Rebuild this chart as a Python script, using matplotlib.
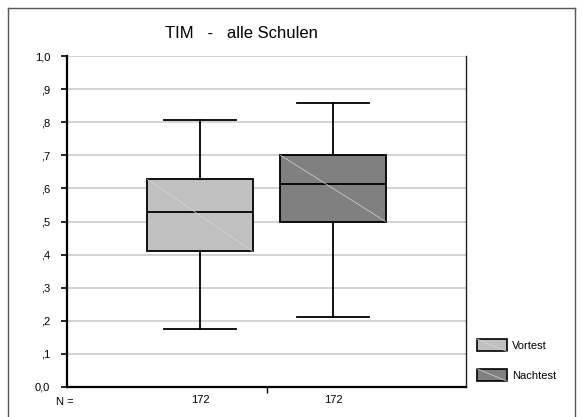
import matplotlib
matplotlib.use("Agg")
import matplotlib.pyplot as plt
from matplotlib.patches import Patch, Rectangle
from matplotlib.legend_handler import HandlerPatch
from matplotlib.lines import Line2D

plt.rcParams["font.family"] = ["Liberation Sans", "DejaVu Sans"]

# Box plot statistics
groups = ["Vortest", "Nachtest"]
n_counts = [172, 172]
whisker_low = [0.175, 0.210]
q1 = [0.410, 0.500]
median = [0.530, 0.614]
q3 = [0.627, 0.700]
whisker_high = [0.807, 0.857]
fills = ["#c0c0c0", "#808080"]

ytick_vals = [0.0, 0.1, 0.2, 0.3, 0.4, 0.5, 0.6, 0.7, 0.8, 0.9, 1.0]
ytick_labels = ["0,0", ",1", ",2", ",3", ",4", ",5", ",6", ",7", ",8", ",9", "1,0"]

positions = [1, 2]
box_w = 0.79
cap_w = 0.54

fig = plt.figure(figsize=(5.82, 4.17), dpi=100)
ax = fig.add_axes([67 / 582, 1 - 387 / 417, (466 - 67) / 582, (387 - 56) / 417])

# outer frame of the output window
fig.add_artist(Line2D([8 / 582, 8 / 582], [0, 1 - 8 / 417], transform=fig.transFigure,
                      color="#555555", lw=1))
fig.add_artist(Line2D([8 / 582, 575 / 582], [1 - 8 / 417, 1 - 8 / 417], transform=fig.transFigure,
                      color="#555555", lw=1))
fig.add_artist(Line2D([575 / 582, 575 / 582], [0, 1 - 8 / 417], transform=fig.transFigure,
                      color="#555555", lw=1))

# grid
for v in ytick_vals[1:]:
    ax.axhline(v, color="#c8c8c8", lw=1.1, zorder=0)

stats = []
for i, g in enumerate(groups):
    stats.append(dict(label=g, whislo=whisker_low[i], q1=q1[i], med=median[i],
                      q3=q3[i], whishi=whisker_high[i], fliers=[]))

bp = ax.bxp(stats, positions=positions, widths=box_w, capwidths=cap_w,
            patch_artist=True, showfliers=False,
            boxprops=dict(edgecolor="black", linewidth=1.3),
            medianprops=dict(color="black", linewidth=1.3),
            whiskerprops=dict(color="black", linewidth=1.3),
            capprops=dict(color="black", linewidth=1.3))
for patch, c in zip(bp["boxes"], fills):
    patch.set_facecolor(c)
    patch.set_zorder(2)

# faint diagonal across each box
for i, p in enumerate(positions):
    ax.plot([p - box_w / 2, p + box_w / 2], [q3[i], q1[i]], color="#d8d8d8",
            lw=0.5, zorder=2.5)

ax.set_xlim(0, 3)
ax.set_ylim(0, 1.0)
ax.set_yticks(ytick_vals)
ax.set_yticklabels(ytick_labels)
ax.tick_params(axis="y", direction="out", length=4, width=1.2, pad=8, labelsize=8)

ax.set_xticks([1.5])
ax.set_xticklabels([""])
ax.tick_params(axis="x", which="major", direction="out", length=4, width=1)
ax.set_xticks(positions, minor=True)
ax.set_xticklabels([str(n) for n in n_counts], minor=True)
ax.tick_params(axis="x", which="minor", length=0, pad=6, labelsize=8)
ax.text(-0.02, -0.03, "N =", transform=ax.get_xaxis_transform(), ha="center",
        va="top", fontsize=8)

ax.spines["top"].set_visible(False)
for s in ["left", "bottom"]:
    ax.spines[s].set_linewidth(1.6)
ax.spines["right"].set_linewidth(1.0)
ax.spines["right"].set_color("#202020")


class DiagHandler(HandlerPatch):
    def create_artists(self, legend, orig_handle, xdescent, ydescent, width, height,
                       fontsize, trans):
        r = Rectangle((-xdescent, -ydescent), width, height,
                      facecolor=orig_handle.get_facecolor(), edgecolor="black",
                      lw=1.2, transform=trans)
        d = Line2D([-xdescent, -xdescent + width], [-ydescent + height, -ydescent],
                   color="#d8d8d8", lw=0.5, transform=trans)
        return [r, d]


handles = [Patch(facecolor=c, label=g) for g, c in zip(groups, fills)]
fig.legend(handles=handles, loc="upper left", bbox_to_anchor=(477 / 582, 1 - 339 / 417),
           frameon=False, fontsize=8, handlelength=2.7, handleheight=1.35,
           handletextpad=0.45, labelspacing=1.55, borderpad=0, borderaxespad=0,
           handler_map={Patch: DiagHandler()})

fig.text(241 / 582, 1 - 37.5 / 417, "TIM   -   alle Schulen", ha="center",
         va="baseline", fontsize=12)

fig.savefig("out.png", dpi=100)
